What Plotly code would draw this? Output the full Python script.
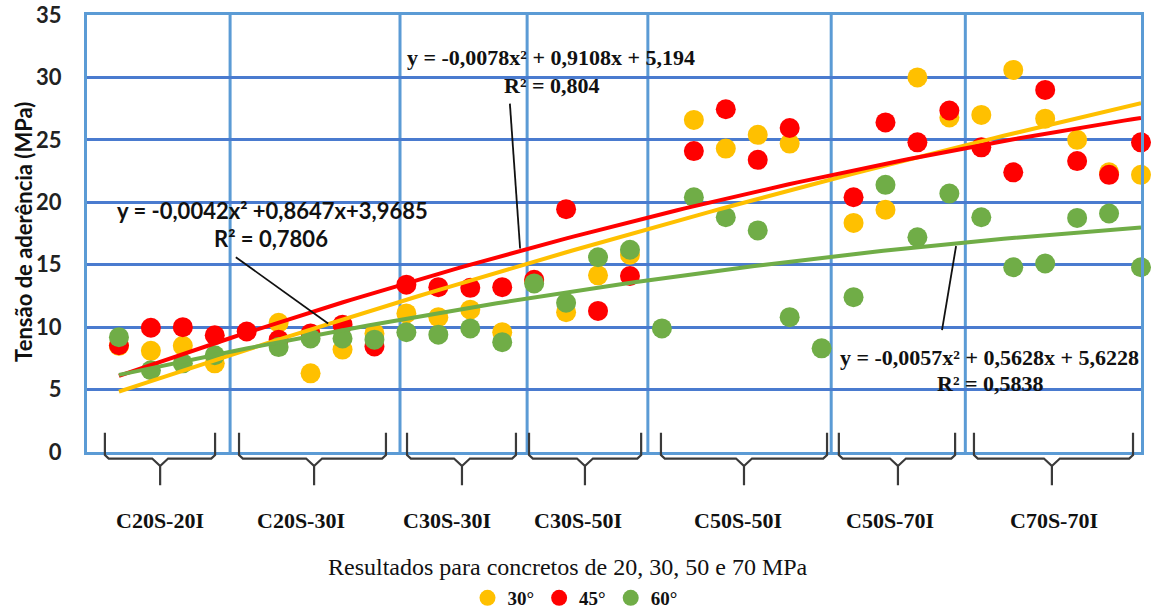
import numpy as np
import plotly.graph_objects as go

# ---------------- data ----------------
x_idx = list(range(1, 34))

s30 = [8.5, 8.1, 8.5, 7.1, None, 10.35, 6.3, 8.2, 9.5,
       11.1, 10.8, 11.4, 9.6, 13.7, 11.2, 14.15, 15.8,
       None, 26.6, 24.3, 25.4, 24.7, None, 18.35, 19.4, 30.0, 26.8,
       27.0, 30.6, 26.7, 25.0, 22.4, 22.2]
s45 = [8.55, 9.95, 10.0, 9.35, 9.65, 9.0, 9.5, 10.2, 8.45,
       13.4, 13.2, 13.15, 13.2, 13.8, 19.45, 11.3, 14.1,
       None, 24.1, 27.45, 23.4, 25.95, None, 20.4, 26.4, 24.8, 27.35,
       24.4, 22.4, 29.0, 23.3, 22.2, 24.8]
s60 = [9.2, 6.55, 7.1, 7.75, None, 8.4, 9.1, 9.1, 9.0,
       9.6, 9.4, 9.9, 8.8, 13.5, 11.95, 15.6, 16.2,
       9.9, 20.4, 18.8, 17.75, 10.8, 8.3, 12.4, 21.4, 17.2, 20.7,
       18.8, 14.8, 15.1, 18.75, 19.1, 14.8]

series_names = ["30°", "45°", "60°"]

# polynomial trendline coefficients (a, b, c) as printed on the chart
coef30 = [-0.0042, 0.8647, 3.9685]
coef45 = [-0.0078, 0.9108, 5.194]
coef60 = [-0.0057, 0.5628, 5.6228]

eq30 = "y = -0,0042x² +0,8647x+3,9685"
r2_30 = "R² = 0,7806"
eq45 = "y = -0,0078x² + 0,9108x + 5,194"
r2_45 = "R² = 0,804"
eq60 = "y = -0,0057x² + 0,5628x + 5,6228"
r2_60 = "R² = 0,5838"

groups = ["C20S-20I", "C20S-30I", "C30S-30I", "C30S-50I", "C50S-50I", "C50S-70I", "C70S-70I"]

y_ticks = [0, 5, 10, 15, 20, 25, 30, 35]

# ---------------- layout helpers (positions) ----------------
dividers = [4.48, 9.8, 13.78, 17.56, 23.3, 27.5]
brace_l = [0.56, 4.76, 10.02, 13.84, 17.97, 23.54, 27.77]
brace_r = [4.01, 9.36, 13.43, 17.35, 23.17, 27.18, 32.75]
brace_c = [2.29, 7.11, 11.74, 15.59, 20.57, 25.39, 30.21]
label_c = [2.29, 6.70, 11.27, 15.37, 20.38, 25.14, 30.28]

C30, C45, C60 = "#FFC000", "#FF0000", "#70AD47"
SERIF = "Liberation Serif, Times New Roman, serif"
SANS = "Lato, Liberation Sans, sans-serif"

fig = go.Figure()
for name, ys, col in zip(series_names, [s30, s45, s60], [C30, C45, C60]):
    fig.add_trace(go.Scatter(x=x_idx, y=ys, mode="markers", name=name,
                             marker=dict(color=col, size=20, line=dict(width=0)),
                             cliponaxis=False))

xt = np.linspace(1, 33, 120)
for coef, col in zip([coef30, coef45, coef60], [C30, C45, C60]):
    fig.add_trace(go.Scatter(x=xt, y=np.polyval(coef, xt), mode="lines",
                             line=dict(color=col, width=4), showlegend=False,
                             hoverinfo="skip"))

shapes = []
for d in dividers:
    shapes.append(dict(type="line", xref="x", yref="paper", x0=d, x1=d, y0=0, y1=1,
                       line=dict(color="#5B9BD5", width=3), layer="below"))

top, hl, dip, bot = 0.044, -0.015, -0.032, -0.076
for l, r, c in zip(brace_l, brace_r, brace_c):
    path = (f"M {l},{top} L {l},{hl+0.008} L {l+0.12},{hl} L {c-0.25},{hl} L {c},{dip} L {c},{bot} "
            f"M {c},{dip} L {c+0.25},{hl} L {r-0.12},{hl} L {r},{hl+0.008} L {r},{top}")
    shapes.append(dict(type="path", xref="x", yref="paper", path=path,
                       line=dict(color="#3a3a3a", width=2.2)))

# connector lines from equations to trendlines
for (xa, ya, xb, yb) in [(4.66, 15.6, 7.55, 10.3), (13.24, 27.9, 13.56, 16.3), (26.77, 9.76, 27.21, 16.5)]:
    shapes.append(dict(type="line", xref="x", yref="y", x0=xa, y0=ya, x1=xb, y1=yb,
                       line=dict(color="#111111", width=1.8)))

ann = []
def add_text(text, x, y, font, size, xref="x", yref="y", bold=True, angle=0):
    ann.append(dict(text=text, x=x, y=y, xref=xref, yref=yref, showarrow=False,
                    xanchor="center", yanchor="middle", textangle=angle,
                    font=dict(family=font, size=size, color="#111111",
                              weight="bold" if bold else "normal")))

add_text(eq30, 5.8, 19.36, SANS, 22)
add_text(r2_30, 5.75, 17.1, SANS, 22)
add_text(eq45, 14.53, 31.6, SERIF, 22)
add_text(r2_45, 14.56, 29.36, SERIF, 22)
add_text(eq60, 28.27, 7.6, SERIF, 22)
add_text(r2_60, 28.3, 5.52, SERIF, 22)

for g, c in zip(groups, label_c):
    add_text(g, c, -0.156, SERIF, 22, yref="paper")

add_text("Resultados para concretos de 20, 30, 50 e 70 MPa", 0.456, -0.263, SERIF, 24,
         xref="paper", yref="paper", bold=False)
add_text("Tensão de aderência (MPa)", -0.061, 0.503, SANS, 22, xref="paper", yref="paper", angle=-90)

fig.update_layout(
    width=1162, height=612,
    margin=dict(l=87, r=21, t=15, b=160, autoexpand=False),
    paper_bgcolor="white", plot_bgcolor="white",
    shapes=shapes, annotations=ann,
    showlegend=True,
    legend=dict(orientation="h", x=0.463, y=-0.334, xanchor="center", yanchor="middle",
                font=dict(family=SERIF, size=19, color="#111111", weight="bold"),
                itemwidth=30, bgcolor="rgba(0,0,0,0)"),
    xaxis=dict(range=[0, 33], showgrid=False, zeroline=False, showticklabels=False,
               showline=True, linecolor="#5B9BD5", linewidth=3, mirror=True, ticks=""),
    yaxis=dict(range=[0, 35], tickvals=y_ticks, showgrid=True, gridcolor="#4A7BCF", gridwidth=3,
               zeroline=False, showline=True, linecolor="#5B9BD5", linewidth=3, mirror=True,
               ticks="", ticklabelstandoff=18,
               tickfont=dict(family=SANS, size=22, color="#222222", weight="bold")),
)

fig.write_html("out.html")
